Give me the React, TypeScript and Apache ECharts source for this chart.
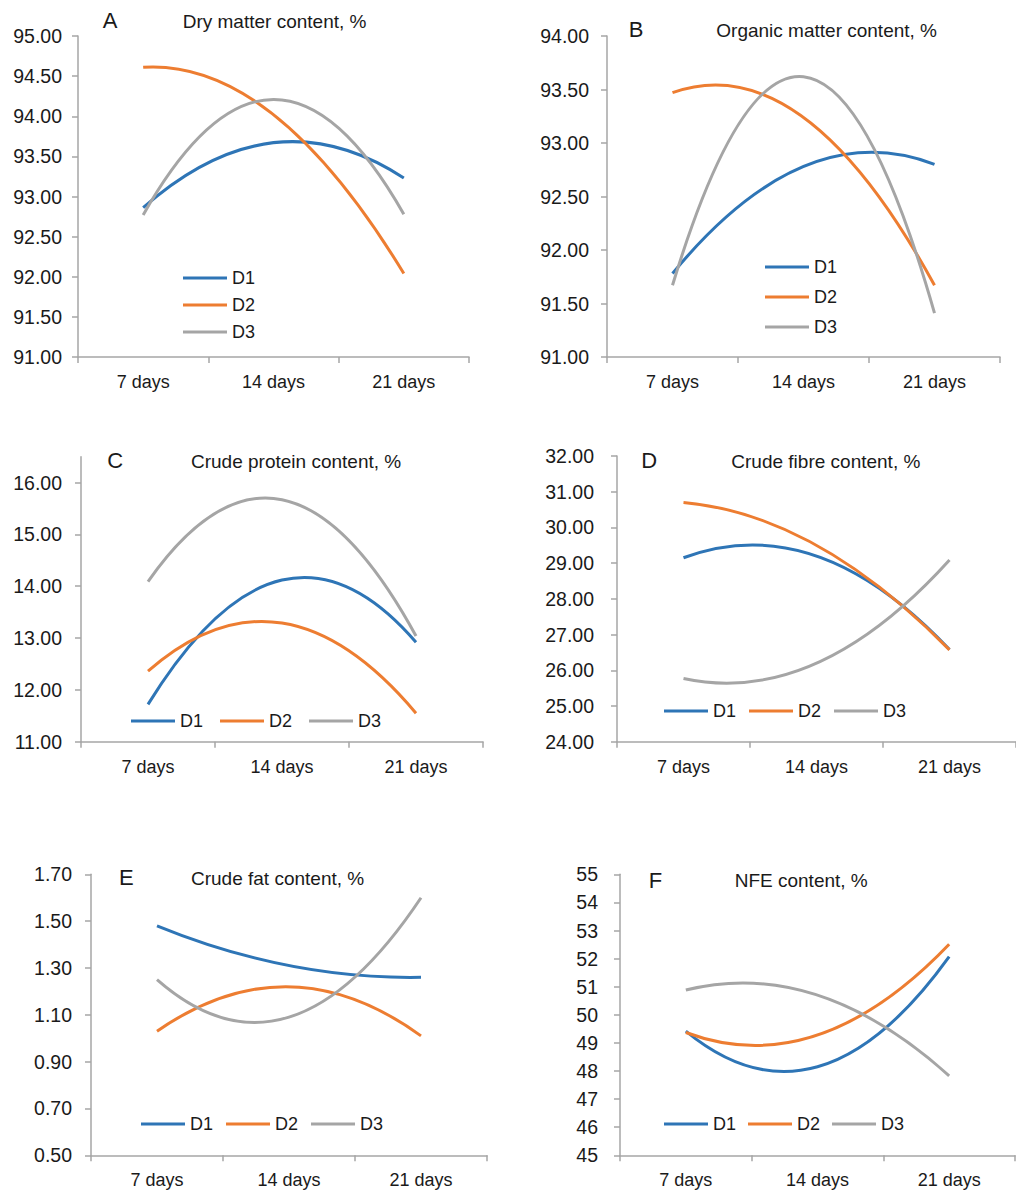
import React, { useEffect, useRef } from "react";
import * as echarts from "echarts";

// ---- Data ----
const categories = ["7 days", "14 days", "21 days"];
const seriesNames = ["D1", "D2", "D3"];

// A: Dry matter content, %
const dryD1 = [92.86, 93.67, 93.23];
const dryD2 = [94.61, 94.02, 92.04];
const dryD3 = [92.77, 94.21, 92.78];
// B: Organic matter content, %
const orgD1 = [91.78, 92.78, 92.8];
const orgD2 = [93.47, 93.24, 91.67];
const orgD3 = [91.67, 93.62, 91.41];
// C: Crude protein content, %
const protD1 = [11.72, 14.12, 12.92];
const protD2 = [12.36, 13.29, 11.55];
const protD3 = [14.09, 15.67, 13.04];
// D: Crude fibre content, %
const fibD1 = [29.15, 29.2, 26.58];
const fibD2 = [30.7, 29.5, 26.57];
const fibD3 = [25.77, 26.2, 29.09];
// E: Crude fat content, %
const fatD1 = [1.48, 1.31, 1.26];
const fatD2 = [1.03, 1.22, 1.01];
const fatD3 = [1.25, 1.09, 1.6];
// F: NFE content, %
const nfeD1 = [49.42, 48.15, 52.07];
const nfeD2 = [49.37, 49.28, 52.51];
const nfeD3 = [50.88, 50.7, 47.83];

// Tick labels
const ticksA = [91, 91.5, 92, 92.5, 93, 93.5, 94, 94.5, 95];
const ticksB = [91, 91.5, 92, 92.5, 93, 93.5, 94];
const ticksC = [11, 12, 13, 14, 15, 16];
const ticksD = [24, 25, 26, 27, 28, 29, 30, 31, 32];
const ticksE = [0.5, 0.7, 0.9, 1.1, 1.3, 1.5, 1.7];
const ticksF = [45, 46, 47, 48, 49, 50, 51, 52, 53, 54, 55];

const letters = ["A", "B", "C", "D", "E", "F"];
const titles = [
  "Dry matter content, %",
  "Organic matter content, %",
  "Crude protein content, %",
  "Crude fibre content, %",
  "Crude fat content, %",
  "NFE content, %",
];

const COLORS = ["#2E75B6", "#ED7D31", "#A5A5A5"];
const AXIS = "#A6A6A6";
const TEXT = "#1a1a1a";
const FONT = "'Liberation Sans', Arial, sans-serif";

const panels = [
  { data: [dryD1, dryD2, dryD3], ticks: ticksA, min: 91, max: 95, dec: 2,
    grid: { left: 78, top: 36, width: 391, height: 321 }, labelMargin: 16,
    legend: { left: 183, top: 268, orient: "vertical", itemGap: 7 },
    letter: [102.7, 20.7], title: [182.7, 21.7] },
  { data: [orgD1, orgD2, orgD3], ticks: ticksB, min: 91, max: 94, dec: 2,
    grid: { left: 607, top: 36, width: 393, height: 321 }, labelMargin: 18,
    legend: { left: 765, top: 257, orient: "vertical", itemGap: 10 },
    letter: [628.7, 29.3], title: [716.3, 30.7] },
  { data: [protD1, protD2, protD3], ticks: ticksC, min: 11, max: 16.5, dec: 2,
    grid: { left: 81, top: 456.7, width: 402, height: 285 }, labelMargin: 19,
    legend: { left: 131, top: 711, orient: "horizontal", itemGap: 17 },
    letter: [107.3, 460], title: [191, 461] },
  { data: [fibD1, fibD2, fibD3], ticks: ticksD, min: 24, max: 32, dec: 2,
    grid: { left: 617, top: 456, width: 402, height: 285.7 }, labelMargin: 23,
    legend: { left: 664, top: 701, orient: "horizontal", itemGap: 13 },
    letter: [641.3, 460.7], title: [731.3, 461] },
  { data: [fatD1, fatD2, fatD3], ticks: ticksE, min: 0.5, max: 1.7, dec: 2,
    grid: { left: 91, top: 874.3, width: 396, height: 281 }, labelMargin: 19,
    legend: { left: 141, top: 1114, orient: "horizontal", itemGap: 13 },
    letter: [119, 877.7], title: [191, 878.3] },
  { data: [nfeD1, nfeD2, nfeD3], ticks: ticksF, min: 45, max: 55, dec: 0,
    grid: { left: 620, top: 874.3, width: 395, height: 281 }, labelMargin: 22,
    legend: { left: 664, top: 1114, orient: "horizontal", itemGap: 12 },
    letter: [648.7, 880], title: [734.7, 880.7] },
];

// Second-order polynomial curve through the three points (as in the source figure),
// drawn as one exact quadratic Bezier in pixel space using the axes' own scales.
function makeRenderItem(color: string) {
  return (params: any, api: any) => {
    if (params.dataIndex !== 0) return null;
    const n = 3;
    const pts: number[][] = [];
    for (let i = 0; i < n; i++) {
      pts.push(api.coord([api.value(0, i), api.value(1, i)]));
    }
    const [p0, p1, p2] = pts;
    const cpx = 2 * p1[0] - (p0[0] + p2[0]) / 2;
    const cpy = 2 * p1[1] - (p0[1] + p2[1]) / 2;
    return {
      type: "bezierCurve",
      shape: { x1: p0[0], y1: p0[1], x2: p2[0], y2: p2[1], cpx1: cpx, cpy1: cpy },
      style: { stroke: color, lineWidth: 3, fill: "none", lineCap: "butt" },
      silent: true,
    };
  };
}

export default function App() {
  const ref = useRef<HTMLDivElement>(null);

  useEffect(() => {
    document.body.style.margin = "0";
    if (!ref.current) return;
    const chart = echarts.init(ref.current, undefined, { renderer: "svg" });

    const grid: any[] = [];
    const xAxis: any[] = [];
    const yAxis: any[] = [];
    const series: any[] = [];
    const legend: any[] = [];
    const graphic: any[] = [];

    panels.forEach((p, i) => {
      grid.push({ ...p.grid, containLabel: false });
      xAxis.push({
        type: "category",
        gridIndex: i,
        data: categories,
        boundaryGap: true,
        axisLine: { show: true, lineStyle: { color: AXIS, width: 1.5 } },
        axisTick: { show: true, length: 6, lineStyle: { color: AXIS, width: 1.5 } },
        axisLabel: { color: TEXT, fontSize: 18, fontFamily: FONT, margin: 16 },
        splitLine: { show: false },
      });
      yAxis.push({
        type: "value",
        gridIndex: i,
        min: p.min,
        max: p.max,
        axisLine: { show: true, lineStyle: { color: AXIS, width: 1.5 } },
        axisTick: { show: true, length: 6, customValues: p.ticks, lineStyle: { color: AXIS, width: 1.5 } },
        axisLabel: {
          color: TEXT,
          fontSize: 19.5,
          fontFamily: FONT,
          margin: p.labelMargin,
          customValues: p.ticks,
          formatter: (v: number) => v.toFixed(p.dec),
        },
        splitLine: { show: false },
      });
      p.data.forEach((vals, k) => {
        series.push({
          type: "custom",
          name: seriesNames[k],
          xAxisIndex: i,
          yAxisIndex: i,
          coordinateSystem: "cartesian2d",
          data: vals.map((v, j) => [categories[j], v]),
          encode: { x: 0, y: 1 },
          itemStyle: { color: COLORS[k] },
          renderItem: makeRenderItem(COLORS[k]),
          clip: false,
        });
      });
      legend.push({
        data: seriesNames,
        left: p.legend.left,
        top: p.legend.top,
        orient: p.legend.orient,
        itemGap: p.legend.itemGap,
        icon: "rect",
        itemWidth: 44,
        itemHeight: 3,
        padding: 0,
        selectedMode: false,
        textStyle: { color: TEXT, fontSize: 18, fontFamily: FONT, lineHeight: 20 },
      });
      graphic.push({
        type: "text",
        x: p.letter[0],
        y: p.letter[1],
        style: { text: letters[i], fill: TEXT, font: `22px ${FONT}`, verticalAlign: "middle", align: "left" },
      });
      graphic.push({
        type: "text",
        x: p.title[0],
        y: p.title[1],
        style: { text: titles[i], fill: TEXT, font: `19px ${FONT}`, verticalAlign: "middle", align: "left" },
      });
    });

    chart.setOption({
      animation: false,
      backgroundColor: "#ffffff",
      grid,
      xAxis,
      yAxis,
      series,
      legend,
      graphic,
    });

    return () => chart.dispose();
  }, []);

  return <div ref={ref} style={{ width: 1016, height: 1198 }} />;
}
